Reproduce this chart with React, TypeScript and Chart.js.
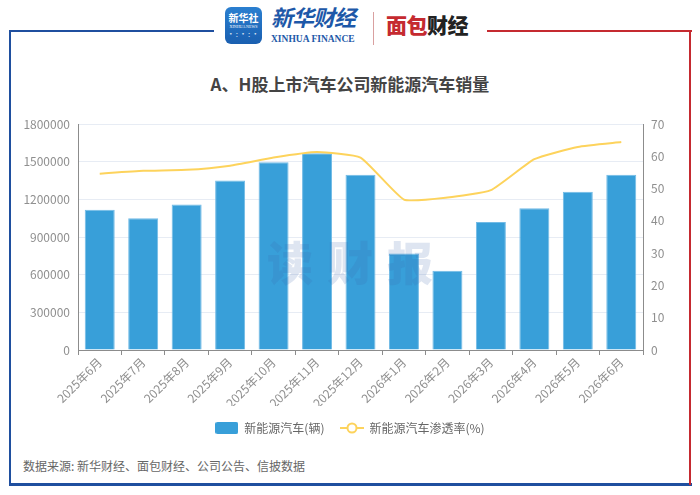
import { useEffect, useRef } from 'react'
import { Chart, registerables } from 'chart.js'

Chart.register(...registerables)

// data
const months = [
  '2025年6月', '2025年7月', '2025年8月', '2025年9月', '2025年10月', '2025年11月', '2025年12月',
  '2026年1月', '2026年2月', '2026年3月', '2026年4月', '2026年5月', '2026年6月',
]
const nevSales = [
  1118000, 1049000, 1158000, 1350000, 1496000, 1568000, 1396000,
  769000, 632000, 1020000, 1128000, 1261000, 1396000,
]
const penetration = [54.6, 55.5, 55.8, 57.1, 59.6, 61.3, 59.6, 46.6, 47.2, 49.5, 59.1, 62.9, 64.4]

const salesLabel = '新能源汽车(辆)'
const rateLabel = '新能源汽车渗透率(%)'

const BAR_COLOR = '#389fd9'
const LINE_COLOR = '#fdd35c'
const AXIS_COLOR = '#8c8c8c'
const TICK_COLOR = '#8f8f8f'
const FONT = '"Noto Sans CJK SC", "Noto Sans", sans-serif'

// legend icons: a rounded box for the bars, a line with a ring for the line
function makeBarIcon() {
  const c = document.createElement('canvas')
  c.width = 23
  c.height = 12
  const ctx = c.getContext('2d')!
  ctx.fillStyle = BAR_COLOR
  ctx.beginPath()
  ctx.roundRect(0, 0, 23, 12, 2)
  ctx.fill()
  return c
}

function makeLineIcon() {
  const c = document.createElement('canvas')
  c.width = 24
  c.height = 12
  const ctx = c.getContext('2d')!
  ctx.strokeStyle = LINE_COLOR
  ctx.lineWidth = 2
  ctx.beginPath()
  ctx.moveTo(0, 6)
  ctx.lineTo(24, 6)
  ctx.stroke()
  ctx.fillStyle = '#fff'
  ctx.beginPath()
  ctx.arc(12, 6, 4.5, 0, Math.PI * 2)
  ctx.fill()
  ctx.stroke()
  return c
}

function SalesChart() {
  const chartRef = useRef<HTMLCanvasElement>(null)
  const chartInstance = useRef<Chart | null>(null)

  useEffect(() => {
    if (!chartRef.current) return
    if (chartInstance.current) chartInstance.current.destroy()
    const barIcon = makeBarIcon()
    const lineIcon = makeLineIcon()

    chartInstance.current = new Chart(chartRef.current, {
      type: 'bar',
      data: {
        labels: months,
        datasets: [
          {
            type: 'bar',
            label: salesLabel,
            data: nevSales,
            backgroundColor: BAR_COLOR,
            borderColor: '#72bbe6',
            borderWidth: 1,
            barPercentage: 0.69,
            categoryPercentage: 1,
            yAxisID: 'y',
            order: 2,
          },
          {
            type: 'line',
            label: rateLabel,
            data: penetration,
            borderColor: LINE_COLOR,
            backgroundColor: '#fff',
            borderWidth: 2,
            pointRadius: 0,
            tension: 0.15,
            yAxisID: 'y1',
            order: 1,
          },
        ],
      },
      options: {
        responsive: true,
        maintainAspectRatio: false,
        animation: false,
        layout: { padding: { left: 0, right: 0, top: 24, bottom: 6 } },
        plugins: {
          tooltip: { enabled: false },
          legend: {
            position: 'bottom',
            labels: {
              usePointStyle: true,
              pointStyleWidth: 23,
              boxHeight: 12,
              padding: 16,
              color: '#666',
              font: { family: FONT, size: 12 },
              sort: (a, b) => (a.datasetIndex ?? 0) - (b.datasetIndex ?? 0),
              generateLabels: (chart) =>
                chart.data.datasets.map((ds, i) => ({
                  text: ds.label as string,
                  datasetIndex: i,
                  pointStyle: i === 0 ? barIcon : lineIcon,
                  fillStyle: i === 0 ? BAR_COLOR : '#fff',
                  strokeStyle: i === 0 ? BAR_COLOR : LINE_COLOR,
                  lineWidth: 0,
                  fontColor: '#666',
                  hidden: false,
                })),
            },
          },
        },
        scales: {
          x: {
            offset: true,
            afterFit: (scale) => { scale.height = 56 },
            grid: {
              display: true,
              offset: true,
              drawOnChartArea: false,
              drawTicks: true,
              tickLength: 5,
              color: AXIS_COLOR,
            },
            border: { display: true, color: AXIS_COLOR },
            ticks: {
              color: TICK_COLOR,
              font: { family: FONT, size: 12 },
              minRotation: 45,
              maxRotation: 45,
              autoSkip: false,
              padding: 0,
            },
          },
          y: {
            position: 'left',
            min: 0,
            max: 1800000,
            afterFit: (scale) => { scale.width = 78 },
            grid: { color: '#e7ecf4', drawTicks: false },
            border: { display: true, color: AXIS_COLOR },
            ticks: {
              stepSize: 300000,
              color: TICK_COLOR,
              padding: 8,
              font: { family: FONT, size: 12 },
              callback: (v) => String(v),
            },
          },
          y1: {
            position: 'right',
            min: 0,
            max: 70,
            afterFit: (scale) => { scale.width = 57 },
            grid: { drawOnChartArea: false, drawTicks: false },
            border: { display: true, color: AXIS_COLOR },
            ticks: {
              stepSize: 10,
              color: TICK_COLOR,
              padding: 8,
              font: { family: FONT, size: 12 },
            },
          },
        },
      },
    })

    return () => {
      if (chartInstance.current) {
        chartInstance.current.destroy()
        chartInstance.current = null
      }
    }
  }, [])

  return (
    <div style={{ position: 'absolute', left: 0, top: 100, width: 700, height: 350 }}>
      <canvas ref={chartRef}></canvas>
    </div>
  )
}

function Header() {
  return (
    <>
      {/* frame: blue on the left and bottom, red on the right */}
      <div style={{ position: 'absolute', left: 9, top: 30, width: 205, height: 2, background: '#1f4f9f' }} />
      <div style={{ position: 'absolute', left: 487, top: 30, width: 205, height: 2, background: '#c52a30' }} />
      <div style={{ position: 'absolute', left: 9, top: 30, width: 2, height: 456, background: '#1f4f9f' }} />
      <div style={{ position: 'absolute', left: 9, top: 483, width: 683, height: 3, background: '#1f4f9f' }} />
      <div style={{ position: 'absolute', left: 689, top: 30, width: 2, height: 455, background: '#c52a30' }} />

      {/* xinhua news badge */}
      <div style={{
        position: 'absolute', left: 225, top: 7, width: 37, height: 37, borderRadius: 6,
        background: 'linear-gradient(180deg, #2a7fd0 0%, #1a5fb0 100%)', color: '#fff',
        textAlign: 'center', fontFamily: FONT, overflow: 'hidden',
      }}>
        <div style={{ fontSize: 10, fontWeight: 700, lineHeight: '12px', marginTop: 5 }}>新华社</div>
        <div style={{ fontSize: 4, lineHeight: '5px', fontFamily: '"Liberation Serif", serif' }}>XINHUA NEWS</div>
        <div style={{ fontSize: 8, lineHeight: '10px', letterSpacing: 1, opacity: 0.8 }}>·:·:·</div>
      </div>
      <div style={{
        position: 'absolute', left: 271, top: 2, width: 88, fontFamily: FONT, fontSize: 22,
        fontWeight: 700, fontStyle: 'italic', color: '#1d58a8', lineHeight: '28px', letterSpacing: -1,
      }}>新华财经</div>
      <div style={{
        position: 'absolute', left: 271, top: 34, width: 90, fontFamily: '"Liberation Serif", serif',
        fontSize: 9.5, fontWeight: 700, color: '#1d58a8', lineHeight: '11px', whiteSpace: 'nowrap',
      }}>XINHUA FINANCE</div>
      <div style={{ position: 'absolute', left: 373, top: 12, width: 1, height: 33, background: '#d9a0a0' }} />
      <div style={{
        position: 'absolute', left: 386, top: 10, fontFamily: FONT, fontSize: 21, fontWeight: 900,
        color: '#c52a30', lineHeight: '28px', letterSpacing: -0.5, whiteSpace: 'nowrap',
      }}>面包<span style={{ color: '#222' }}>财经</span></div>

      {/* title */}
      <div style={{
        position: 'absolute', left: 0, top: 72, width: 700, textAlign: 'center', fontFamily: FONT,
        fontSize: 17, fontWeight: 700, color: '#444', lineHeight: '24px',
      }}>A、H股上市汽车公司新能源汽车销量</div>

      {/* source */}
      <div style={{
        position: 'absolute', left: 23, top: 457, fontFamily: FONT, fontSize: 12, color: '#666',
        lineHeight: '18px', whiteSpace: 'nowrap',
      }}>数据来源: 新华财经、面包财经、公司公告、信披数据</div>
    </>
  )
}

export default function App() {
  return (
    <div style={{ position: 'fixed', left: 0, top: 0, width: 700, height: 495, background: '#fff', overflow: 'hidden' }}>
      <Header />
      <SalesChart />
      {/* watermark */}
      <div style={{
        position: 'absolute', left: 0, top: 230, width: 714, textAlign: 'center', fontFamily: FONT,
        fontSize: 46, fontWeight: 900, letterSpacing: 14, color: 'rgba(60, 100, 170, 0.17)',
        lineHeight: '60px', pointerEvents: 'none',
      }}>读财报</div>
    </div>
  )
}
